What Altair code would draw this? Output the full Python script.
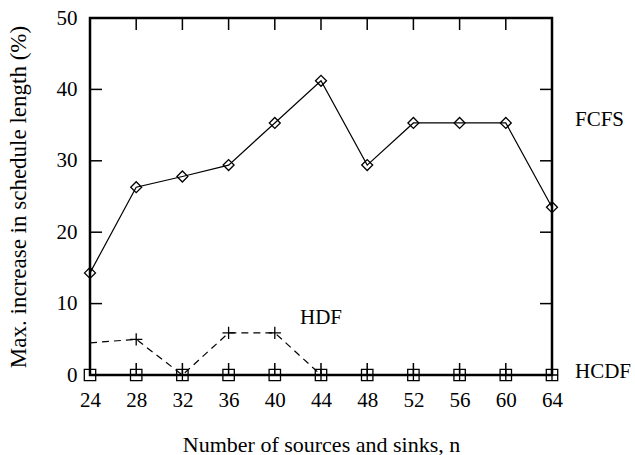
import altair as alt
import pandas as pd

n_values = [24, 28, 32, 36, 40, 44, 48, 52, 56, 60, 64]
fcfs = [14.3, 26.3, 27.8, 29.4, 35.3, 41.2, 29.4, 35.3, 35.3, 35.3, 23.5]
hdf = [4.5, 5.0, 0.0, 5.9, 5.9, 0.0, 0.0, 0.0, 0.0, 0.0, 0.0]
hcdf = [0.0] * 11

x_ticks = [24, 28, 32, 36, 40, 44, 48, 52, 56, 60, 64]
y_ticks = [0, 10, 20, 30, 40, 50]

label_names = ["FCFS", "HDF", "HCDF"]
label_x = [64, 44, 64]
label_y = [35.3, 8.0, 0.0]

W, H = 462, 357
FONT = "Liberation Serif"

rows = []
for i, n in enumerate(n_values):
    rows.append({"n": n, "v": fcfs[i], "s": "FCFS"})
    rows.append({"n": n, "v": hdf[i], "s": "HDF"})
    rows.append({"n": n, "v": hcdf[i], "s": "HCDF"})
df = pd.DataFrame(rows)

xs = alt.Scale(domain=[24, 64], nice=False, zero=False)
ys = alt.Scale(domain=[0, 50], nice=False)

xax = alt.Axis(values=x_ticks, tickSize=0, domain=False, grid=False, labelFontSize=21,
               labelFont=FONT, labelColor="black", labelPadding=14, labelFlush=False,
               title="Number of sources and sinks, n",
               titleFont=FONT, titleFontSize=22, titleFontWeight="normal", titleColor="black", titlePadding=24)
yax = alt.Axis(values=y_ticks, tickSize=0, domain=False, grid=False, labelFontSize=21,
               labelFont=FONT, labelColor="black", labelPadding=13, labelFlush=False,
               title="Max. increase in schedule length (%)",
               titleFont=FONT, titleFontSize=23, titleFontWeight="normal", titleColor="black", titlePadding=26)

base = alt.Chart(df)
X = alt.X("n:Q", scale=xs, axis=xax)
Y = alt.Y("v:Q", scale=ys, axis=yax)

fcfs_line = base.transform_filter(alt.datum.s == "FCFS").mark_line(color="black", strokeWidth=1.2).encode(x=X, y=Y)
fcfs_pts = base.transform_filter(alt.datum.s == "FCFS").mark_point(
    shape="diamond", size=120, color="black", strokeWidth=1.3, filled=False, opacity=1).encode(x=X, y=Y)

hdf_line = base.transform_filter(alt.datum.s == "HDF").mark_line(
    color="black", strokeWidth=1.2, strokeDash=[7, 5]).encode(x=X, y=Y)
hdf_pts = base.transform_filter((alt.datum.s == "HDF") & (alt.datum.n > 24)).mark_point(
    shape="M-1,0H1M0,-1V1", size=150, color="black", strokeWidth=1.3, filled=False, opacity=1).encode(x=X, y=Y)

hcdf_line = base.transform_filter(alt.datum.s == "HCDF").mark_line(color="black", strokeWidth=1.2).encode(x=X, y=Y)
hcdf_pts = base.transform_filter(alt.datum.s == "HCDF").mark_point(
    shape="square", size=130, color="black", strokeWidth=1.3, filled=False, opacity=1).encode(x=X, y=Y)

xt = alt.Chart(pd.DataFrame({"t": x_ticks}))
yt = alt.Chart(pd.DataFrame({"t": y_ticks}))
TL = 12
tick_xb = xt.mark_rule(color="black", strokeWidth=1.5).encode(
    x=alt.X("t:Q", scale=xs), y=alt.value(H), y2=alt.value(H - TL))
tick_xt = xt.mark_rule(color="black", strokeWidth=1.5).encode(
    x=alt.X("t:Q", scale=xs), y=alt.value(0), y2=alt.value(TL))
tick_yl = yt.mark_rule(color="black", strokeWidth=1.5).encode(
    y=alt.Y("t:Q", scale=ys), x=alt.value(0), x2=alt.value(TL))
tick_yr = yt.mark_rule(color="black", strokeWidth=1.5).encode(
    y=alt.Y("t:Q", scale=ys), x=alt.value(W), x2=alt.value(W - TL))

ldf = pd.DataFrame({"name": label_names, "x": label_x, "y": label_y})
lab_right = alt.Chart(ldf).transform_filter(alt.datum.name != "HDF").mark_text(
    align="left", baseline="middle", dx=23, dy=-3, font=FONT, fontSize=21, color="black").encode(
    x=alt.X("x:Q", scale=xs), y=alt.Y("y:Q", scale=ys), text="name:N")
lab_hdf = alt.Chart(ldf).transform_filter(alt.datum.name == "HDF").mark_text(
    align="center", baseline="middle", font=FONT, fontSize=21, color="black").encode(
    x=alt.X("x:Q", scale=xs), y=alt.Y("y:Q", scale=ys), text="name:N")

chart = alt.layer(
    hdf_line, hcdf_line, fcfs_line, tick_xb, tick_xt, tick_yl, tick_yr,
    hdf_pts, hcdf_pts, fcfs_pts, lab_right, lab_hdf
).properties(
    width=W, height=H,
    autosize=alt.AutoSizeParams(type="none"),
    padding={"left": 90, "top": 18, "right": 83, "bottom": 80},
    background="white",
).configure_view(stroke="black", strokeWidth=2.5)

chart.save("out.html", embed_options={"renderer": "svg", "actions": False})
